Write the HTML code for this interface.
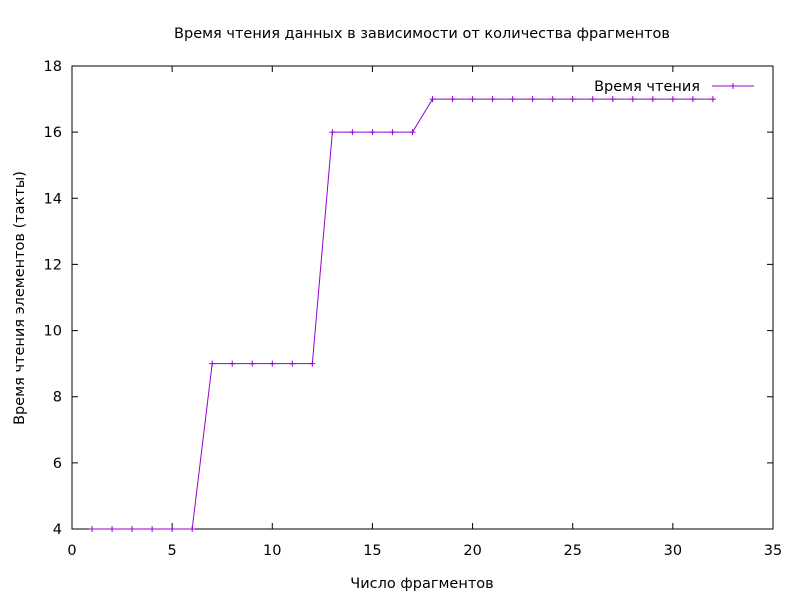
<!DOCTYPE html>
<html><head><meta charset="utf-8"><style>
body{margin:0;background:#fff}
svg text{font-family:"DejaVu Sans","Liberation Sans",sans-serif;font-size:14.5px;fill:#000}
</style></head><body>
<svg width="800" height="600" id="c">
<rect width="800" height="600" fill="#fff"/>
<text x="422" y="38" text-anchor="middle">Время чтения данных в зависимости от количества фрагментов</text>
<text x="422" y="588" text-anchor="middle">Число фрагментов</text>
<text transform="translate(24,298) rotate(-90)" text-anchor="middle">Время чтения элементов (такты)</text>
<g id="axes"></g>
<g id="series"></g>
<g>
<text x="700" y="91" text-anchor="end">Время чтения</text>
<line x1="712" y1="86" x2="754" y2="86" stroke="#9400d3" stroke-width="1"/>
<path d="M730 86h6M733 83v6" stroke="#9400d3"/>
</g>
</svg>
<script>
const xs=[1,2,3,4,5,6,7,8,9,10,11,12,13,14,15,16,17,18,19,20,21,22,23,24,25,26,27,28,29,30,31,32];
const ys=[4,4,4,4,4,4,9,9,9,9,9,9,16,16,16,16,16,17,17,17,17,17,17,17,17,17,17,17,17,17,17,17];
const xTicks=[0,5,10,15,20,25,30,35];
const yTicks=[4,6,8,10,12,14,16,18];
const L=72,R=773,T=66,B=529;
const sx=v=>L+(v-0)/(35-0)*(R-L);
const sy=v=>B-(v-4)/(18-4)*(B-T);
const NS="http://www.w3.org/2000/svg";
const ax=document.getElementById('axes'),se=document.getElementById('series');
function mk(tag,attrs,parent){const e=document.createElementNS(NS,tag);for(const k in attrs)e.setAttribute(k,attrs[k]);parent.appendChild(e);return e;}
const fr=mk('rect',{x:L,y:T,width:R-L,height:B-T,fill:'none',stroke:'#000','stroke-width':1},ax);


xTicks.forEach(t=>{const x=sx(t);
const tk=mk('path',{d:`M${x} ${B}v-6M${x} ${T}v6`,stroke:'#000'},ax);


const tx=mk('text',{x:x,y:B+26,'text-anchor':'middle'},ax);tx.textContent=t;

});
yTicks.forEach(t=>{const y=sy(t);
const tk=mk('path',{d:`M${L} ${y}h6M${R} ${y}h-6`,stroke:'#000'},ax);


const tx=mk('text',{x:L-10,y:y+5,'text-anchor':'end'},ax);tx.textContent=t;

});
const pts=xs.map((x,i)=>sx(x)+','+sy(ys[i])).join(' ');
const pl=mk('polyline',{points:pts,fill:'none',stroke:'#9400d3','stroke-width':1},se);


xs.forEach((x,i)=>{const px=sx(x),py=sy(ys[i]);
const m=mk('path',{d:`M${px-3} ${py}h6M${px} ${py-3}v6`,stroke:'#9400d3'},se);

});
</script>
</body></html>
